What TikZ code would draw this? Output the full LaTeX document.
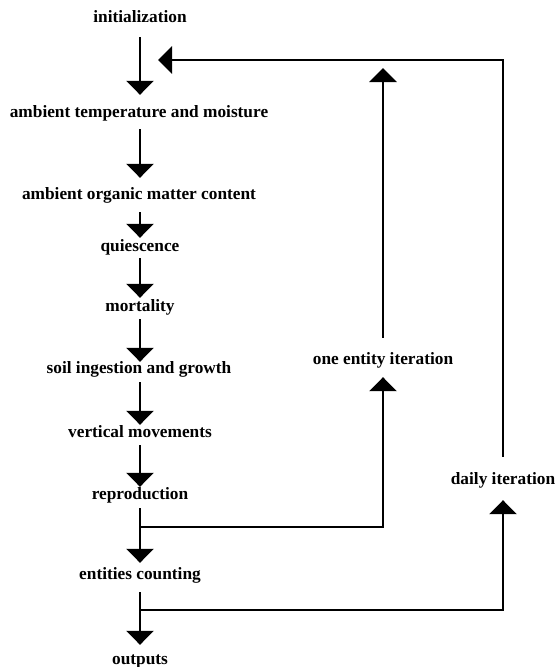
\documentclass[tikz,border=0pt]{standalone}
\usepackage{fontspec}
\setmainfont{Liberation Serif}
\usetikzlibrary{arrows.meta}
\tikzset{
  lbl/.style={font=\bfseries\fontsize{17.3pt}{20pt}\selectfont, inner sep=0pt, text height=8pt, text depth=0pt, anchor=center},
  arr/.style={line width=2.9pt, -{Triangle[width=27pt,length=14pt]}},
  loop/.style={line width=2.6pt, -{Triangle[width=27pt,length=14pt]}}
}
\begin{document}
\begin{tikzpicture}[x=1pt,y=-1pt]
\useasboundingbox (0,0) rectangle (557,667);
\node[lbl] (init) at (140,18) {initialization};
\node[lbl] (amb) at (139,113) {ambient temperature and moisture};
\node[lbl] (org) at (139,195) {ambient organic matter content};
\node[lbl] (qui) at (140,247) {quiescence};
\node[lbl] (mort) at (140,307) {mortality};
\node[lbl] (soil) at (139,369) {soil ingestion and growth};
\node[lbl] (vert) at (140,433) {vertical movements};
\node[lbl] (repr) at (140,495) {reproduction};
\node[lbl] (ent) at (140,575) {entities counting};
\node[lbl] (out) at (140,660) {outputs};
\node[lbl] (one) at (383,360) {one entity iteration};
\node[lbl] (daily) at (503,480) {daily iteration};
\coordinate (b1) at (140,527);
\coordinate (b2) at (140,610);
\coordinate (t1) at (383,68);
\coordinate (t2) at (158,60);

\draw[arr, shorten <=15pt, shorten >=14pt] (init.south -| 140,0) -- (amb.north -| 140,0);
\draw[arr, shorten <=12pt, shorten >=13pt] (amb.south -| 140,0) -- (org.north -| 140,0);
\draw[arr, shorten <=13pt, shorten >=5pt] (org.south -| 140,0) -- (qui.north -| 140,0);
\draw[arr, shorten <=7pt, shorten >=5pt] (qui) -- (mort);
\draw[arr, shorten <=8pt, shorten >=3pt] (mort.south -| 140,0) -- (soil.north -| 140,0);
\draw[arr, shorten <=9pt, shorten >=4pt] (soil.south -| 140,0) -- (vert.north -| 140,0);
\draw[arr, shorten <=8pt, shorten >=4pt] (vert) -- (repr);
\draw[arr, shorten <=9pt, shorten >=8pt] (repr) -- (ent);
\draw[arr, shorten <=13pt, shorten >=11pt] (ent) -- (out);

\draw[loop, shorten >=13pt] (b1) -| (one.south);
\draw[loop, shorten <=18pt] (one.north) -- (t1);
\draw[loop, shorten >=16pt] (b2) -| (daily.south);
\draw[loop, shorten <=19pt] (daily.north) |- (t2);
\end{tikzpicture}
\end{document}
